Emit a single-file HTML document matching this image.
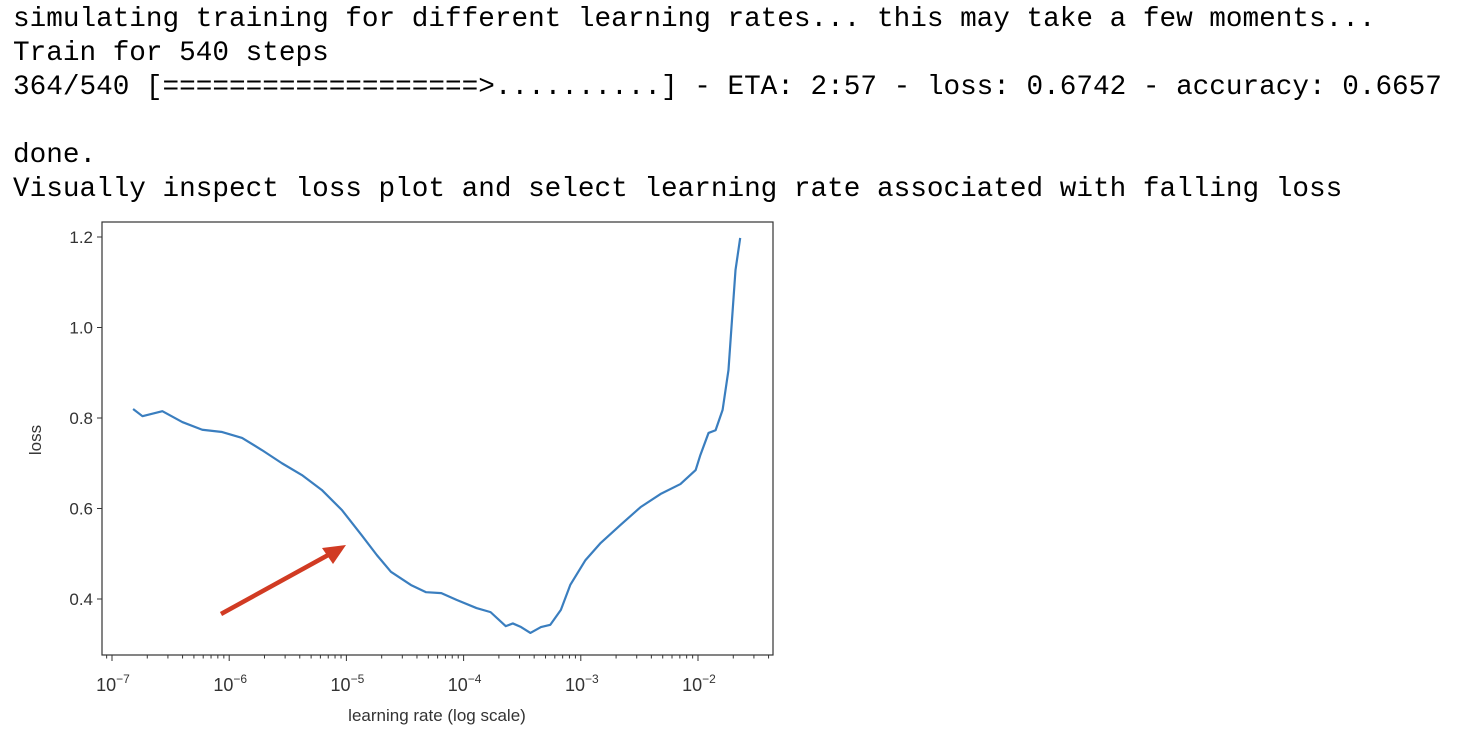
<!DOCTYPE html>
<html><head><meta charset="utf-8"><style>
body{margin:0;width:1477px;height:737px;background:#fff;overflow:hidden;position:relative}
pre{position:absolute;left:13px;top:3px;margin:0;font-family:"Liberation Mono",monospace;font-size:27.7px;line-height:34px;color:#000}
svg{position:absolute;left:0;top:0}
</style></head><body>
<pre>simulating training for different learning rates... this may take a few moments...
Train for 540 steps
364/540 [===================&gt;..........] - ETA: 2:57 - loss: 0.6742 - accuracy: 0.6657

done.
Visually inspect loss plot and select learning rate associated with falling loss</pre>
<svg id="chart" width="1477" height="737"></svg>
<script>
const logLr=[-6.82,-6.74,-6.57,-6.40,-6.23,-6.06,-5.89,-5.72,-5.55,-5.38,-5.21,-5.04,-4.87,-4.74,-4.62,-4.45,-4.32,-4.19,-4.06,-3.89,-3.77,-3.64,-3.58,-3.51,-3.43,-3.34,-3.26,-3.17,-3.09,-2.96,-2.83,-2.66,-2.49,-2.32,-2.15,-2.02,-1.98,-1.91,-1.85,-1.79,-1.74,-1.71,-1.68,-1.64];
const loss=[0.82,0.804,0.815,0.791,0.774,0.769,0.756,0.729,0.70,0.674,0.641,0.597,0.541,0.497,0.46,0.431,0.415,0.413,0.398,0.38,0.371,0.34,0.346,0.338,0.325,0.338,0.343,0.376,0.431,0.486,0.524,0.564,0.603,0.632,0.654,0.685,0.718,0.767,0.773,0.818,0.906,1.017,1.127,1.198];
const yTicks=[0.4,0.6,0.8,1.0,1.2];
const xDecades=[-7,-6,-5,-4,-3,-2];
const svg=document.getElementById('chart');const NS='http://www.w3.org/2000/svg';
const X=l=>112+(l+7)*117.2, Y=v=>237+(1.2-v)*452.5;
function mk(t,a,p){const e=document.createElementNS(NS,t);for(const k in a)e.setAttribute(k,a[k]);(p||svg).appendChild(e);return e;}
const L=102,R=773,T=222,B=655;
const frame=mk('rect',{x:L,y:T,width:R-L,height:B-T,fill:'none',stroke:'#333','stroke-width':1.2});


yTicks.forEach(v=>{
 mk('line',{x1:L-5,x2:L,y1:Y(v),y2:Y(v),stroke:'#333'});
 const t=mk('text',{x:L-9,y:Y(v)+6,'text-anchor':'end','font-family':'Liberation Sans,sans-serif','font-size':17,fill:'#333'});
 t.textContent=v.toFixed(1);
 
 
});
for(let d=-8;d<=-1;d++){for(let m=2;m<=9;m++){const x=X(d+Math.log10(m));if(x>L&&x<R)mk('line',{x1:x,x2:x,y1:B,y2:B+3.5,stroke:'#333'});}}
xDecades.forEach(d=>{
 const x=X(d);mk('line',{x1:x,x2:x,y1:B,y2:B+6,stroke:'#333'});
 const t=mk('text',{x:x+1,y:B+36,'text-anchor':'middle','font-family':'Liberation Sans,sans-serif','font-size':18,fill:'#333'});
 t.textContent='10';const s=mk('tspan',{dy:-8,'font-size':12},t);s.textContent='\u2212'+(-d);
 
 
});
const yl=mk('text',{x:41,y:440,transform:'rotate(-90 41 440)','text-anchor':'middle','font-family':'Liberation Sans,sans-serif','font-size':17,fill:'#333'});yl.textContent='loss';


const xl=mk('text',{x:437,y:721,'text-anchor':'middle','font-family':'Liberation Sans,sans-serif','font-size':17,fill:'#333'});xl.textContent='learning rate (log scale)';


const line=mk('polyline',{points:logLr.map((l,i)=>X(l)+','+Y(loss[i])).join(' '),fill:'none',stroke:'#3a7ebf','stroke-width':2.2,'stroke-linejoin':'round'});


const ar=mk('g',{});


mk('line',{x1:221,y1:614,x2:330,y2:554,stroke:'#d13b23','stroke-width':4.5},ar);
mk('polygon',{points:'346,545 322,548 333,564',fill:'#d13b23'},ar);
</script>
</body></html>
